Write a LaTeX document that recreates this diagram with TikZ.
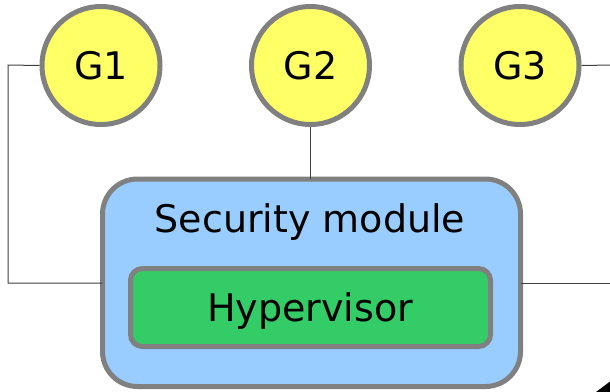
\documentclass[tikz,border=0pt]{standalone}
\usepackage{fontspec}
\setmainfont{DejaVu Sans}
\begin{document}
\begin{tikzpicture}[x=1pt,y=-1pt,
  guest/.style={circle,draw=rimgray,line width=5pt,fill=guestyellow,minimum size=118pt,inner sep=0pt,font=\fontsize{38}{44}\selectfont},
  modbox/.style={draw=rimgray,line width=5pt,fill=modblue,rounded corners=35pt,inner sep=0pt},
  hvbox/.style={draw=rimgray,line width=5pt,fill=hvgreen,rounded corners=12pt,inner sep=0pt},
  label/.style={font=\fontsize{38}{44}\selectfont,inner sep=0pt,anchor=base},
  wire/.style={draw=black!75,line width=1pt}]
\definecolor{rimgray}{HTML}{808080}
\definecolor{guestyellow}{HTML}{FFFF66}
\definecolor{modblue}{HTML}{99CCFF}
\definecolor{hvgreen}{HTML}{33CC66}
\useasboundingbox (0,0) rectangle (610,391);
\begin{scope}
\clip (0,0) rectangle (610,391);
% security module and hypervisor boxes
\draw[modbox] (102.5,179) rectangle (520.5,386.5);
\node[label] (sm) at (310,232) {Security module};
\draw[hvbox] (130.5,268.5) rectangle (490.5,346.5);
\node[label] (hv) at (310,321.5) {Hypervisor};
\coordinate (smW) at (102.5,283);
\coordinate (smE) at (520.5,283);
\coordinate (smN) at (310.5,179);
% guest circles
\node[guest] (g1) at (101,65.5) {G1};
\node[guest] (g2) at (310.5,65.5) {G2};
\node[guest] (g3) at (520,65.5) {G3};
% free ends at the right margin
\coordinate (outA) at (612,65);
\coordinate (outB) at (612,283);
% connectors
\draw[wire] (g1.west) -- (8,65) |- (smW);
\draw[wire] (g2.south) -- (smN);
\draw[wire] (g3.east) -- (outA);
\draw[wire] (smE) -- (outB);
% arrow tip entering from the lower right corner
\fill[black] (596,392) -- (612,380) -- (612,392) -- cycle;
\end{scope}
\end{tikzpicture}
\end{document}
